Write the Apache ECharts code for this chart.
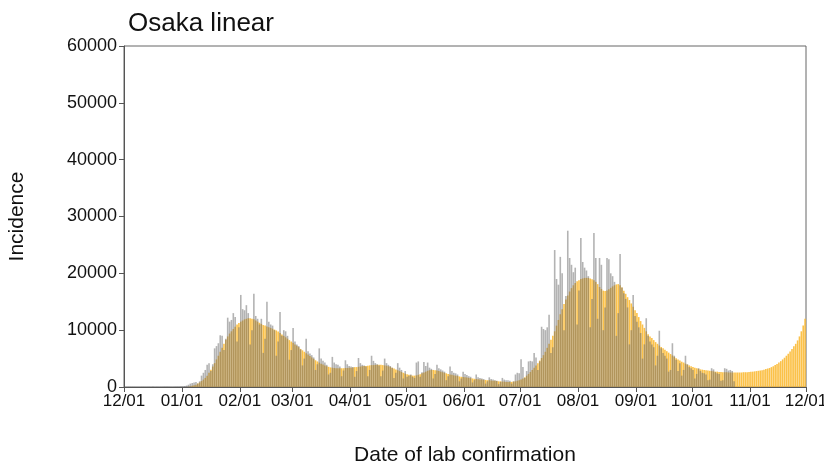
<!DOCTYPE html>
<html>
<head>
<meta charset="utf-8">
<script src="https://cdn.jsdelivr.net/npm/echarts@6/dist/echarts.min.js"></script>
<style>
  html, body { margin: 0; padding: 0; background: #fff; }
  #chart { width: 824px; height: 467px; }
</style>
</head>
<body>
<div id="chart"></div>
<script>
// x axis ticks: day offset from 2021-12-01 and their labels
const tickDays = [0, 31, 62, 90, 121, 151, 182, 212, 243, 274, 304, 335, 365]
const tickLabels = ['12/01', '01/01', '02/01', '03/01', '04/01', '05/01', '06/01', '07/01', '08/01', '09/01', '10/01', '11/01', '12/01']

// observed incidence (grey bars), one value per day
const obsDec = [10, 12, 15, 14, 8, 12, 16, 18, 20, 17, 15, 9, 14, 18, 20, 22, 19, 16, 10, 15, 22, 25, 28, 26, 24, 14, 20, 35, 50, 60, 80]
const obsJan = [100, 150, 250, 400, 600, 700, 800, 900, 600, 1000, 2000, 2500, 3000, 3900, 4200, 2800, 4000, 6800, 7200, 7700, 9100, 9000, 6500, 8500, 12200, 11500, 11800, 13000, 12300, 8000, 10500]
const obsFeb = [16200, 13700, 13500, 14400, 13000, 7500, 10000, 16400, 12500, 12000, 11000, 12000, 6000, 8500, 15000, 11500, 11000, 10800, 10000, 5500, 8000, 13200, 9000, 10000, 9800, 9000, 4800, 6500]
const obsMar = [10400, 8000, 7500, 7200, 6600, 3800, 5000, 8500, 6300, 5900, 5600, 5200, 3000, 4000, 6800, 5000, 4600, 4300, 3900, 2200, 2500, 5300, 4300, 4000, 3900, 3600, 1900, 2900, 4700, 4000, 3700]
const obsApr = [3600, 3500, 1800, 2800, 5100, 4200, 3900, 3800, 3600, 1900, 3000, 5500, 4600, 4200, 4000, 3800, 1900, 2900, 5000, 4200, 3900, 3700, 3400, 1600, 2500, 4200, 3400, 3000, 1500, 2800]
const obsMay = [1800, 2000, 2200, 1800, 1600, 4300, 4500, 1800, 2600, 4400, 3700, 4300, 3400, 3200, 1500, 2300, 3900, 3300, 3100, 2900, 2700, 1200, 1900, 3600, 2800, 2500, 2400, 2200, 1000, 1500, 2700]
const obsJun = [2300, 2100, 1900, 1800, 800, 1200, 2200, 1700, 1600, 1500, 1400, 600, 1000, 1700, 1400, 1300, 1200, 1100, 500, 900, 1600, 1300, 1200, 1200, 1100, 600, 1000, 2200, 2500, 2400]
const obsJul = [4900, 3500, 1600, 2800, 4500, 4600, 4500, 6000, 5200, 3000, 4500, 10600, 10200, 10000, 10500, 12700, 6000, 7000, 24100, 19000, 18000, 22900, 20000, 10000, 16000, 27500, 22700, 21500, 20200, 21000, 11000]
const obsAug = [17000, 26200, 22000, 21000, 20500, 19500, 10500, 15500, 27100, 22700, 12000, 22700, 21500, 10000, 14000, 22700, 22500, 20000, 19500, 18500, 9000, 13000, 23400, 17500, 16500, 15500, 14000, 7500, 10000, 16200, 12500]
const obsSep = [11500, 10500, 9500, 5000, 7500, 12100, 9000, 8000, 7500, 7000, 3800, 5500, 9900, 6800, 6000, 5500, 5000, 2700, 3000, 7700, 5500, 4800, 2800, 4200, 2000, 3000, 5500, 4000, 3500, 3300]
const obsOct = [3000, 1500, 2300, 3300, 2800, 2500, 2400, 2200, 1200, 1300, 3300, 3100, 2600, 2400, 2300, 1100, 1200, 3300, 3200, 2900, 3000, 2800, 1000]

// estimated incidence (orange bars), one value per day
const fitDec = [0, 0, 0, 0, 0, 0, 0, 0, 0, 0, 0, 0, 0, 0, 0, 0, 0, 0, 0, 0, 0, 0, 0, 0, 0, 0, 0, 0, 0, 0, 0]
const fitJan = [0, 0, 0, 50, 100, 200, 300, 400, 600, 800, 1050, 1300, 1600, 2000, 2500, 3050, 3600, 4200, 4850, 5500, 6200, 6900, 7600, 8300, 8900, 9400, 9800, 10200, 10600, 11000, 11250]
const fitFeb = [11500, 11700, 11900, 12000, 12100, 12100, 12000, 11900, 11700, 11500, 11300, 11100, 10900, 10800, 10650, 10500, 10400, 10250, 10100, 9950, 9750, 9500, 9250, 9000, 8750, 8500, 8250, 8000]
const fitMar = [7800, 7500, 7250, 7000, 6700, 6450, 6200, 5950, 5700, 5450, 5200, 4950, 4700, 4500, 4300, 4100, 3950, 3800, 3650, 3550, 3450, 3400, 3350, 3300, 3300, 3300, 3300, 3300, 3350, 3350, 3400]
const fitApr = [3400, 3450, 3500, 3500, 3550, 3600, 3650, 3700, 3700, 3750, 3800, 3850, 3850, 3900, 3900, 3900, 3900, 3850, 3800, 3750, 3650, 3550, 3400, 3250, 3100, 2950, 2800, 2650, 2500, 2350]
const fitMay = [2250, 2150, 2050, 2000, 2000, 2050, 2150, 2250, 2400, 2550, 2700, 2850, 2950, 3000, 3000, 2950, 2900, 2800, 2700, 2600, 2500, 2400, 2300, 2200, 2150, 2050, 2000, 1950, 1850, 1800, 1750]
const fitJun = [1700, 1650, 1600, 1550, 1500, 1450, 1400, 1350, 1300, 1300, 1250, 1250, 1200, 1200, 1150, 1100, 1100, 1050, 1000, 1000, 950, 950, 900, 900, 900, 900, 950, 1000, 1100, 1200]
const fitJul = [1300, 1500, 1700, 2000, 2300, 2650, 3000, 3400, 3800, 4200, 4650, 5100, 5600, 6200, 6900, 7600, 8300, 9000, 9800, 10800, 11800, 12800, 13700, 14600, 15400, 16100, 16800, 17400, 17900, 18300, 18600]
const fitAug = [18800, 19000, 19100, 19200, 19200, 19200, 19100, 18950, 18800, 18500, 18100, 17600, 17250, 16950, 16900, 17000, 17200, 17450, 17700, 17900, 18050, 18100, 17900, 17500, 16950, 16400, 15800, 15300, 14700, 14100, 13500]
const fitSep = [13000, 12300, 11600, 11000, 10400, 9800, 9300, 8900, 8600, 8250, 7900, 7600, 7300, 7050, 6800, 6550, 6300, 6050, 5800, 5550, 5300, 5050, 4850, 4650, 4450, 4300, 4100, 3950, 3800, 3650]
const fitOct = [3500, 3400, 3300, 3200, 3100, 3050, 3000, 2950, 2900, 2850, 2800, 2750, 2700, 2700, 2650, 2650, 2600, 2600, 2600, 2550, 2550, 2550, 2550, 2550, 2550, 2550, 2550, 2600, 2600, 2600, 2650]
const fitNov = [2700, 2700, 2750, 2800, 2850, 2900, 2950, 3050, 3150, 3250, 3350, 3500, 3650, 3850, 4050, 4300, 4550, 4850, 5150, 5500, 5850, 6250, 6700, 7150, 7600, 8200, 8900, 9800, 10800, 12000]

const observed = [].concat(obsDec, obsJan, obsFeb, obsMar, obsApr, obsMay, obsJun, obsJul, obsAug, obsSep, obsOct)
const fitted = [].concat(fitDec, fitJan, fitFeb, fitMar, fitApr, fitMay, fitJun, fitJul, fitAug, fitSep, fitOct, fitNov)

// bar i covers day i, so it sits in the middle of [i, i+1]
const toPoints = arr => arr.map((v, i) => [i + 0.5, v])

let mychart = echarts.init(document.getElementById('chart'))
mychart.setOption({
  animation: false,
  title: {
    text: 'Osaka linear',
    left: 123,
    top: 6,
    textStyle: { fontFamily: 'Liberation Sans', fontSize: 26, fontWeight: 'normal', color: '#111' }
  },
  grid: {
    left: 124,
    right: 18,
    top: 46,
    bottom: 80,
    containLabel: false,
    outerBoundsMode: 'none',
    show: true,
    borderColor: '#666',
    borderWidth: 1,
    backgroundColor: 'transparent'
  },
  xAxis: {
    type: 'value',
    min: 0,
    max: 365,
    name: 'Date of lab confirmation',
    nameLocation: 'middle',
    nameGap: 58,
    nameTextStyle: { fontFamily: 'Liberation Sans', fontSize: 21, color: '#111' },
    axisLine: { show: true, lineStyle: { color: '#555' } },
    axisTick: { show: true, length: 5, customValues: tickDays, lineStyle: { color: '#555' } },
    axisLabel: {
      customValues: tickDays,
      margin: 6,
      fontFamily: 'Liberation Sans',
      fontSize: 17,
      color: '#111',
      hideOverlap: false,
      formatter: v => tickLabels[tickDays.indexOf(v)]
    },
    splitLine: { show: false }
  },
  yAxis: {
    type: 'value',
    min: 0,
    max: 60000,
    interval: 10000,
    name: 'Incidence',
    nameLocation: 'middle',
    nameGap: 96,
    nameRotate: 90,
    nameTextStyle: { fontFamily: 'Liberation Sans', fontSize: 21, color: '#111' },
    axisLine: { show: true, lineStyle: { color: '#555' } },
    axisTick: { show: true, length: 5, lineStyle: { color: '#555' } },
    axisLabel: { margin: 7, fontFamily: 'Liberation Sans', fontSize: 18, color: '#111', formatter: v => String(v) },
    splitLine: { show: false }
  },
  series: [
    {
      name: 'estimated',
      type: 'bar',
      data: toPoints(fitted),
      barWidth: 1.6,
      barGap: '-100%',
      itemStyle: { color: 'rgba(250, 184, 48, 0.88)' }
    },
    {
      name: 'observed',
      type: 'bar',
      data: toPoints(observed),
      barWidth: 1.6,
      barGap: '-100%',
      itemStyle: { color: 'rgba(110, 110, 110, 0.52)' }
    }
  ]
})
</script>
</body>
</html>
